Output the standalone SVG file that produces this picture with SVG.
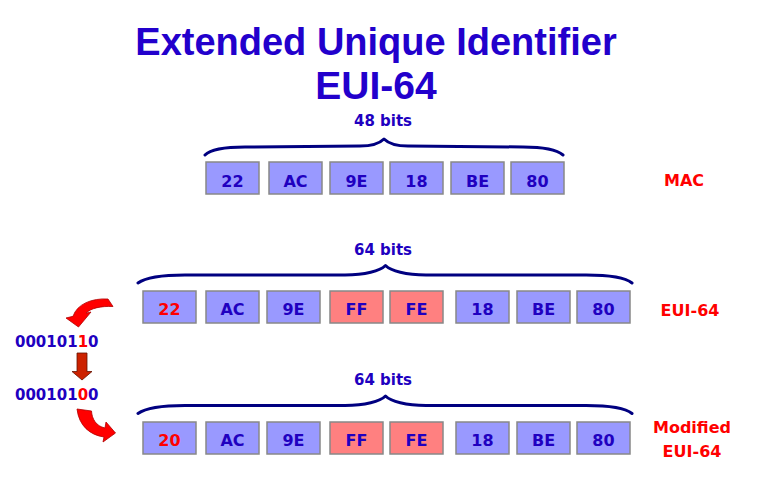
<svg xmlns="http://www.w3.org/2000/svg" width="759" height="487" viewBox="0 0 759 487">
<style>
.title{font-family:"Liberation Sans",Arial,sans-serif;font-weight:bold;fill:#2200cc;text-anchor:middle}
.box{fill:#9999ff;stroke:#888888;stroke-width:1.5}
.boxr{fill:#ff8080;stroke:#888888;stroke-width:1.5}
.lbl{font-family:"DejaVu Sans",sans-serif;font-weight:bold;font-size:16px;fill:#2000c0;text-anchor:middle}
.lblr{fill:#ff0000}
.bits{font-family:"DejaVu Sans",sans-serif;font-weight:bold;font-size:15px;fill:#2000c0;text-anchor:middle}
.side{font-family:"DejaVu Sans",sans-serif;font-weight:bold;font-size:16px;fill:#ff0000;text-anchor:middle}
.bin{font-family:"DejaVu Sans",sans-serif;font-weight:bold;font-size:15px;fill:#2000c0}
.brace{fill:none;stroke:#000080;stroke-width:3;stroke-linecap:round;stroke-linejoin:round}
.carrow{fill:#ff0000;stroke:#b00000;stroke-width:0.8}
.darrow{fill:#cc2200;stroke:#661100;stroke-width:0.8}
</style>

<g id="title">
<text class="title" x="376" y="55" font-size="38">Extended Unique Identifier</text>
<text class="title" x="376" y="99" font-size="39">EUI-64</text>
</g>

<g id="mac-row">
<text class="bits" x="383" y="126">48 bits</text>
<g id="mac-1"><rect class="box" x="206" y="162" width="53" height="32"/><text class="lbl" x="232.5" y="187">22</text></g>
<g id="mac-2"><rect class="box" x="269" y="162" width="53" height="32"/><text class="lbl" x="295.5" y="187">AC</text></g>
<g id="mac-3"><rect class="box" x="330" y="162" width="53" height="32"/><text class="lbl" x="356.5" y="187">9E</text></g>
<g id="mac-4"><rect class="box" x="390" y="162" width="53" height="32"/><text class="lbl" x="416.5" y="187">18</text></g>
<g id="mac-5"><rect class="box" x="451" y="162" width="53" height="32"/><text class="lbl" x="477.5" y="187">BE</text></g>
<g id="mac-6"><rect class="box" x="511" y="162" width="53" height="32"/><text class="lbl" x="537.5" y="187">80</text></g>
<text class="side" x="684" y="186">MAC</text>
</g>

<g id="eui-row">
<text class="bits" x="383" y="255">64 bits</text>
<g id="eui-1"><rect class="box" x="143" y="291" width="53" height="32"/><text class="lbl lblr" x="169.5" y="315">22</text></g>
<g id="eui-2"><rect class="box" x="206" y="291" width="53" height="32"/><text class="lbl" x="232.5" y="315">AC</text></g>
<g id="eui-3"><rect class="box" x="267" y="291" width="53" height="32"/><text class="lbl" x="293.5" y="315">9E</text></g>
<g id="eui-4"><rect class="boxr" x="330" y="291" width="53" height="32"/><text class="lbl" x="356.5" y="315">FF</text></g>
<g id="eui-5"><rect class="boxr" x="390" y="291" width="53" height="32"/><text class="lbl" x="416.5" y="315">FE</text></g>
<g id="eui-6"><rect class="box" x="456" y="291" width="53" height="32"/><text class="lbl" x="482.5" y="315">18</text></g>
<g id="eui-7"><rect class="box" x="517" y="291" width="53" height="32"/><text class="lbl" x="543.5" y="315">BE</text></g>
<g id="eui-8"><rect class="box" x="577" y="291" width="53" height="32"/><text class="lbl" x="603.5" y="315">80</text></g>
<text class="side" x="690" y="316">EUI-64</text>
</g>

<g id="meui-row">
<text class="bits" x="383" y="385">64 bits</text>
<g id="meui-1"><rect class="box" x="143" y="422" width="53" height="32"/><text class="lbl lblr" x="169.5" y="446">20</text></g>
<g id="meui-2"><rect class="box" x="206" y="422" width="53" height="32"/><text class="lbl" x="232.5" y="446">AC</text></g>
<g id="meui-3"><rect class="box" x="267" y="422" width="53" height="32"/><text class="lbl" x="293.5" y="446">9E</text></g>
<g id="meui-4"><rect class="boxr" x="330" y="422" width="53" height="32"/><text class="lbl" x="356.5" y="446">FF</text></g>
<g id="meui-5"><rect class="boxr" x="390" y="422" width="53" height="32"/><text class="lbl" x="416.5" y="446">FE</text></g>
<g id="meui-6"><rect class="box" x="456" y="422" width="53" height="32"/><text class="lbl" x="482.5" y="446">18</text></g>
<g id="meui-7"><rect class="box" x="517" y="422" width="53" height="32"/><text class="lbl" x="543.5" y="446">BE</text></g>
<g id="meui-8"><rect class="box" x="577" y="422" width="53" height="32"/><text class="lbl" x="603.5" y="446">80</text></g>
<text class="side" x="692" y="433">Modified</text>
<text class="side" x="692" y="457">EUI-64</text>
</g>

<g id="binary">
<text class="bin" x="15" y="347">000101<tspan fill="#ff0000">1</tspan>0</text>
<text class="bin" x="15" y="400">000101<tspan fill="#ff0000">0</tspan>0</text>
</g>

<g id="connectors">
<path class="brace" d="M205,155 C211,149 224,147 245,147 L360,146 C372,146 380,143 384,139 C388,143 396,146 408,146 L523,147 C543,147 556,149 563,155"/>
<path class="brace" d="M138,283 C145,278 160,275 185,275 L345,275 C365,275 380,271 385.5,265.5 C391,271 406,275 426,275 L586,275 C611,275 626,278 632,283"/>
<path class="brace" d="M138,413.5 C145,408.5 160,405.5 185,405.5 L345,405.5 C365,405.5 380,401.5 385.5,396 C391,401.5 406,405.5 426,405.5 L586,405.5 C611,405.5 626,408.5 632,413.5"/>
<path class="carrow" d="M66,318 L73,316.3 C77,304 92,298 108,299 L113,306.5 C101,306 91,308 86,313.2 L91,312 L78.5,327 Z"/>
<path class="darrow" d="M77,353 L87,353 L87,371.5 L92,371.5 L82,380 L72,371.5 L77,371.5 Z"/>
<path class="carrow" d="M77,409 L91.5,411 C92,419 96,426 105,428 L106,422 L115.5,433 L103,442 L104,437 C90,435 79,426 77,409 Z"/>
</g>
</svg>
